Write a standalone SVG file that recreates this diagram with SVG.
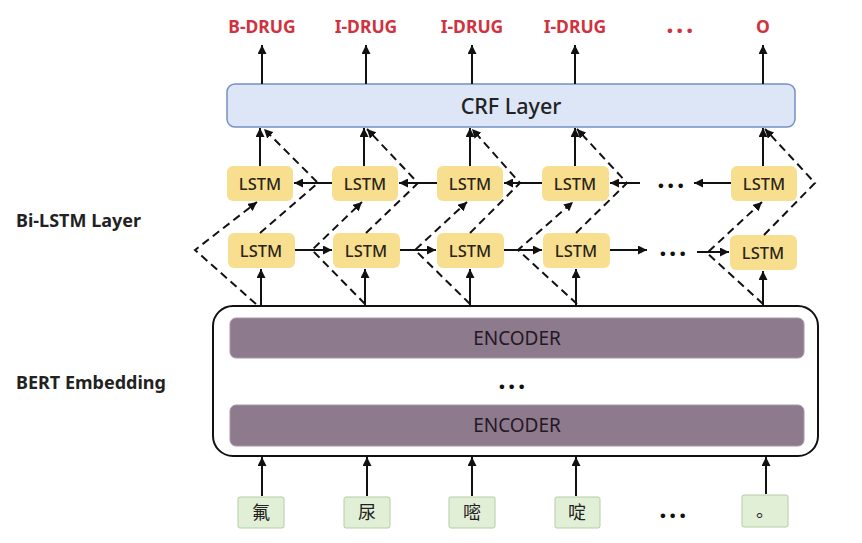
<svg xmlns="http://www.w3.org/2000/svg" width="862" height="543" viewBox="0 0 862 543">
<defs>
<marker id="ah" viewBox="0 0 10 10" refX="10" refY="5" markerWidth="9" markerHeight="9" markerUnits="userSpaceOnUse" orient="auto"><path d="M0,0 L10,5 L0,10 z" fill="#111"/></marker>
<style>
.lbl{font-family:"Noto Sans","Liberation Sans",sans-serif;font-weight:bold;font-size:17.5px;fill:#d0323f;text-anchor:middle}
.side{font-family:"Noto Sans","Liberation Sans",sans-serif;font-weight:bold;font-size:18px;fill:#222}
.lstm rect{fill:#f8df8f}
.lstm text{font-family:"Noto Sans","Liberation Sans",sans-serif;font-size:16.5px;fill:#2a2416;text-anchor:middle;font-weight:500}
.enc rect{fill:#8d7a8d;stroke:#a898a8;stroke-width:1}
.enc text{font-family:"Noto Sans","Liberation Sans",sans-serif;font-size:19px;fill:#241824;text-anchor:middle}
.inp rect{fill:#e2efd7;stroke:#b4cda6;stroke-width:1}
.inp text{font-family:"Noto Sans CJK SC","Noto Sans",sans-serif;font-size:18px;fill:#222;text-anchor:middle}
.s{stroke:#111;stroke-width:2;fill:none}
.a{marker-end:url(#ah)}
.d{stroke:#111;stroke-width:2;fill:none;stroke-dasharray:8 5}
.dots{font-family:"Noto Sans","Liberation Sans",sans-serif;font-weight:bold;font-size:26px;fill:#111;text-anchor:middle;letter-spacing:2.5px}
</style>
</defs>
<rect width="862" height="543" fill="#fff"/>

<g id="labels">
<text class="lbl" x="262" y="33">B-DRUG</text>
<text class="lbl" x="366" y="33">I-DRUG</text>
<text class="lbl" x="472" y="33">I-DRUG</text>
<text class="lbl" x="575" y="33">I-DRUG</text>
<text class="dots" x="681" y="33" style="fill:#d0323f">...</text>
<text class="lbl" x="763" y="33">O</text>
</g>

<g id="crf">
<rect x="227" y="84" width="568" height="43" rx="8" fill="#dce6f6" stroke="#7490c4" stroke-width="1.5"/>
<text x="511" y="114" font-family="'Noto Sans','Liberation Sans',sans-serif" font-size="21.5" fill="#222" text-anchor="middle" font-weight="500">CRF Layer</text>
</g>

<g id="side-labels">
<text class="side" x="16" y="227">Bi-LSTM Layer</text>
<text class="side" x="16" y="389">BERT Embedding</text>
</g>

<g id="lstm-top" class="lstm">
<g id="lt1"><rect x="227" y="166" width="66" height="35" rx="6"/><text x="260" y="190">LSTM</text></g>
<g id="lt2"><rect x="332" y="166" width="66" height="35" rx="6"/><text x="365" y="190">LSTM</text></g>
<g id="lt3"><rect x="437" y="166" width="66" height="35" rx="6"/><text x="470" y="190">LSTM</text></g>
<g id="lt4"><rect x="542" y="166" width="67" height="35" rx="6"/><text x="575" y="190">LSTM</text></g>
<g id="lt5"><rect x="731" y="166" width="66" height="35" rx="6"/><text x="764" y="190">LSTM</text></g>
</g>

<g id="lstm-bottom" class="lstm">
<g id="lb1"><rect x="228" y="233" width="67" height="35" rx="6"/><text x="261" y="257">LSTM</text></g>
<g id="lb2"><rect x="333" y="233" width="67" height="35" rx="6"/><text x="366" y="257">LSTM</text></g>
<g id="lb3"><rect x="437" y="233" width="67" height="35" rx="6"/><text x="470" y="257">LSTM</text></g>
<g id="lb4"><rect x="543" y="233" width="67" height="35" rx="6"/><text x="576" y="257">LSTM</text></g>
<g id="lb5"><rect x="730" y="235" width="67" height="35" rx="6"/><text x="763" y="259">LSTM</text></g>
</g>

<g id="bert">
<rect x="213" y="306" width="605" height="150" rx="20" fill="#fff" stroke="#111" stroke-width="2"/>
<g class="enc" id="enc1"><rect x="230" y="318" width="574" height="40" rx="6"/><text x="517" y="345">ENCODER</text></g>
<text class="dots" x="513" y="389">...</text>
<g class="enc" id="enc2"><rect x="230" y="405" width="574" height="41" rx="6"/><text x="517" y="432">ENCODER</text></g>
</g>

<g id="inputs" class="inp">
<g id="i1"><rect x="238" y="497" width="46" height="31" rx="2"/><text x="261" y="519">氟</text></g>
<g id="i2"><rect x="344" y="497" width="46" height="31" rx="2"/><text x="367" y="519">尿</text></g>
<g id="i3"><rect x="449" y="497" width="46" height="31" rx="2"/><text x="472" y="519">嘧</text></g>
<g id="i4"><rect x="555" y="497" width="45" height="31" rx="2"/><text x="577" y="519">啶</text></g>
<g id="i5"><rect x="742" y="495" width="46" height="32" rx="2"/><text x="765" y="517">。</text></g>
</g>
<text class="dots" x="674" y="518">...</text>

<g id="connectors">
<!-- inputs to encoder -->
<path class="s a" d="M262,496 V457"/>
<path class="s a" d="M367,496 V457"/>
<path class="s a" d="M472,496 V457"/>
<path class="s a" d="M576,496 V457"/>
<path class="s a" d="M766,494 V457"/>
<!-- encoder to bottom LSTM -->
<path class="s a" d="M261,305 V269"/>
<path class="s a" d="M365,305 V269"/>
<path class="s a" d="M470,305 V269"/>
<path class="s a" d="M576,305 V269"/>
<path class="s a" d="M763,305 V271"/>
<!-- top LSTM to CRF -->
<path class="s a" d="M260,166 V128"/>
<path class="s a" d="M364,166 V128"/>
<path class="s a" d="M470,166 V128"/>
<path class="s a" d="M575,166 V128"/>
<path class="s a" d="M763,166 V128"/>
<!-- CRF to labels -->
<path class="s a" d="M262,84 V45"/>
<path class="s a" d="M366,84 V45"/>
<path class="s a" d="M472,84 V45"/>
<path class="s a" d="M575,84 V45"/>
<path class="s a" d="M763,84 V45"/>
<!-- top row backward -->
<path class="s a" d="M332,183 H294"/>
<path class="s a" d="M437,183 H399"/>
<path class="s a" d="M542,183 H504"/>
<path class="s a" d="M640,183 H610"/>
<path class="s a" d="M731,183 H694"/>
<text class="dots" x="672" y="188">...</text>
<!-- bottom row forward -->
<path class="s a" d="M295,250 H332"/>
<path class="s a" d="M400,250 H436"/>
<path class="s a" d="M504,250 H542"/>
<path class="s a" d="M610,250 H647"/>
<path class="s a" d="M697,252 H729"/>
<text class="dots" x="674" y="256">...</text>
<!-- dashed bypass: encoder to top LSTM -->
<path class="d a" d="M256,304 L195,250 L257,202"/>
<path class="d a" d="M365,304 L312,250 L362,202"/>
<path class="d a" d="M470,304 L415,250 L467,202"/>
<path class="d a" d="M577,304 L518,250 L573,202"/>
<path class="d a" d="M763,304 L707,253 L762,202"/>
<!-- dashed bypass: bottom LSTM to CRF -->
<path class="d a" d="M260,233 L318,183 L264,129"/>
<path class="d a" d="M366,233 L418,183 L367,129"/>
<path class="d a" d="M470,233 L520,183 L472,129"/>
<path class="d a" d="M576,233 L627,183 L577,129"/>
<path class="d a" d="M764,235 L815,183 L765,129"/>
</g>
</svg>
